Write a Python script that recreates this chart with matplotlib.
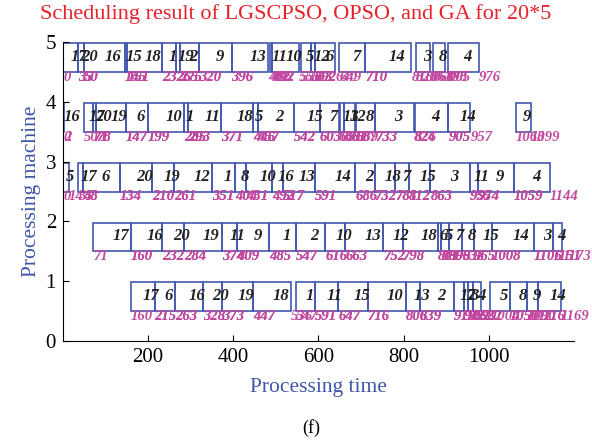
import matplotlib.pyplot as plt
from matplotlib.patches import Rectangle

# schedule: job number, start time and finish time on each machine
jobs_m1 = [17, 6, 16, 20, 19, 18, 1, 11, 15, 10, 13, 2, 12, 7, 3, 4, 5, 8, 9, 14]
start_m1 = [160, 215, 263, 328, 373, 447, 547, 591, 647, 716, 806, 839, 919, 942, 952, 962, 1004, 1050, 1090, 1116]
end_m1 = [215, 263, 328, 373, 447, 536, 591, 647, 716, 806, 839, 919, 942, 952, 962, 982, 1050, 1090, 1116, 1169]

jobs_m2 = [17, 16, 20, 19, 11, 9, 1, 2, 10, 13, 12, 18, 6, 5, 7, 8, 15, 14, 3, 4]
start_m2 = [71, 160, 232, 284, 374, 409, 485, 547, 616, 663, 752, 798, 881, 889, 906, 938, 965, 1008, 1106, 1151]
end_m2 = [160, 232, 284, 374, 409, 485, 547, 616, 663, 752, 798, 881, 889, 906, 938, 965, 1008, 1106, 1151, 1173]

jobs_m3 = [5, 17, 6, 20, 19, 12, 1, 8, 10, 16, 13, 14, 2, 18, 7, 15, 3, 11, 9, 4]
start_m3 = [0, 35, 48, 134, 210, 261, 351, 404, 431, 492, 517, 591, 686, 732, 781, 812, 863, 955, 974, 1059]
end_m3 = [14, 48, 134, 210, 261, 351, 404, 431, 492, 517, 591, 686, 732, 781, 812, 863, 955, 974, 1059, 1144]

jobs_m4 = [16, 17, 20, 19, 6, 10, 1, 11, 18, 5, 2, 15, 7, 13, 12, 8, 3, 4, 14, 9]
start_m4 = [0, 50, 71, 78, 147, 199, 285, 293, 371, 446, 457, 542, 603, 651, 661, 689, 733, 826, 905, 1063]
end_m4 = [2, 71, 78, 147, 199, 285, 293, 371, 446, 457, 542, 603, 648, 661, 687, 733, 824, 905, 957, 1099]

jobs_m5 = [17, 20, 16, 15, 18, 1, 19, 2, 9, 13, 11, 10, 5, 12, 6, 7, 14, 3, 8, 4]
start_m5 = [0, 35, 50, 145, 151, 232, 265, 275, 320, 396, 486, 492, 558, 583, 592, 649, 710, 828, 868, 905]
end_m5 = [35, 50, 145, 151, 232, 265, 275, 320, 396, 482, 492, 555, 583, 592, 640, 710, 818, 863, 898, 976]

machines = [1, 2, 3, 4, 5]
schedule = [(jobs_m1, start_m1, end_m1), (jobs_m2, start_m2, end_m2),
            (jobs_m3, start_m3, end_m3), (jobs_m4, start_m4, end_m4),
            (jobs_m5, start_m5, end_m5)]

plt.rcParams['font.family'] = ['Liberation Serif', 'DejaVu Serif']

box_color = '#4358b0'
time_color = '#c2479f'

fig = plt.figure(figsize=(5.92, 4.43), dpi=100)
ax = fig.add_axes([0.1064, 0.2302, 0.863, 0.675])

for m, (jobs, starts, ends) in zip(machines, schedule):
    for job, s, e in zip(jobs, starts, ends):
        ax.add_patch(Rectangle((s, m - 0.5), e - s, 0.48, fill=False,
                               edgecolor=box_color, linewidth=1.2))
        ax.text((s + e) / 2, m - 0.25, str(job), ha='left', va='center',
                fontsize=12, fontweight='bold', fontstyle='italic', color='#222222')
        ax.text(s, m - 0.59, str(s), ha='left', va='center', fontsize=10.5,
                fontstyle='italic', fontweight='bold', color=time_color, clip_on=False)
        ax.text(e, m - 0.59, str(e), ha='left', va='center', fontsize=10.5,
                fontstyle='italic', fontweight='bold', color=time_color, clip_on=False)

ax.set_xlim(0, 1200)
ax.set_ylim(0, 5)
ax.set_xticks([200, 400, 600, 800, 1000])
ax.set_yticks([0, 1, 2, 3, 4, 5])
ax.tick_params(direction='in', labelsize=15, length=4, pad=5)
ax.spines['top'].set_visible(False)
ax.spines['right'].set_visible(False)

fig.text(0.5, 0.968, 'Scheduling result of LGSCPSO, OPSO, and GA for 20*5', color='#e8202a',
         fontsize=16, ha='center', va='center')
ax.set_xlabel('Processing time', color='#3f55a8', fontsize=15.5, labelpad=8)
ax.set_ylabel('Processing machine', color='#3f55a8', fontsize=15.5, labelpad=3)
fig.text(0.525, 0.033, '(f)', ha='center', va='center', fontsize=13)

fig.savefig('out.png', dpi=100)
